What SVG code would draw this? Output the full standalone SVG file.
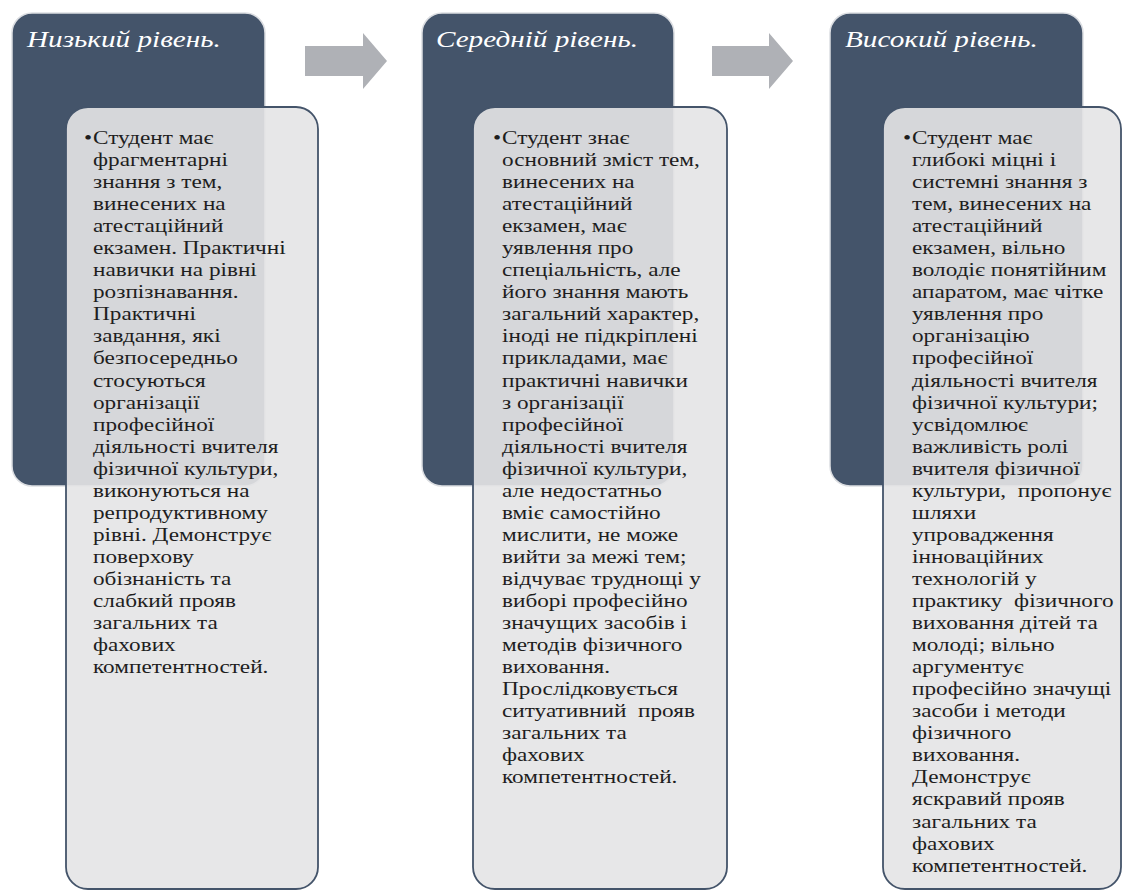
<svg xmlns="http://www.w3.org/2000/svg" width="1124" height="894" viewBox="0 0 1124 894">
<style>
.dark{fill:#44546a;stroke:#dcdee2;stroke-width:1.5}
.light{fill:#e5e5e6;fill-opacity:0.91;stroke:#44546a;stroke-width:1.8}
.hdr{font-family:"Liberation Serif","Times New Roman",serif;font-style:italic;font-size:23px;fill:#ffffff}
.body{font-family:"Liberation Serif","Times New Roman",serif;font-size:18.3px;fill:#1e1e1e}
.arrow{fill:#afb1b6}
</style>
<rect x="0" y="0" width="1124" height="894" fill="#ffffff"/>
<g id="connectors">
<polygon class="arrow" points="305,46 363,46 363,33 387,61 363,89 363,76 305,76"/>
<polygon class="arrow" points="712,46 769,46 769,33 793,61 769,89 769,76 712,76"/>
</g>
<g id="node-low">
<rect class="dark" x="12" y="13" width="253" height="473" rx="20"/>
<text class="hdr" transform="translate(27,47) scale(1.27,1)">Низький рівень.</text>
<rect class="light" x="66" y="107" width="252" height="782" rx="22"/>
<text class="body" transform="translate(84,144) scale(1.27,1)">•</text>
<text class="body" transform="translate(93,144) scale(1.27,1)"><tspan x="0" y="0">Студент має</tspan><tspan x="0" dy="22.05">фрагментарні</tspan><tspan x="0" dy="22.05">знання з тем,</tspan><tspan x="0" dy="22.05">винесених на</tspan><tspan x="0" dy="22.05">атестаційний</tspan><tspan x="0" dy="22.05">екзамен. Практичні</tspan><tspan x="0" dy="22.05">навички на рівні</tspan><tspan x="0" dy="22.05">розпізнавання.</tspan><tspan x="0" dy="22.05">Практичні</tspan><tspan x="0" dy="22.05">завдання, які</tspan><tspan x="0" dy="22.05">безпосередньо</tspan><tspan x="0" dy="22.05">стосуються</tspan><tspan x="0" dy="22.05">організації</tspan><tspan x="0" dy="22.05">професійної</tspan><tspan x="0" dy="22.05">діяльності вчителя</tspan><tspan x="0" dy="22.05">фізичної культури,</tspan><tspan x="0" dy="22.05">виконуються на</tspan><tspan x="0" dy="22.05">репродуктивному</tspan><tspan x="0" dy="22.05">рівні. Демонструє</tspan><tspan x="0" dy="22.05">поверхову</tspan><tspan x="0" dy="22.05">обізнаність та</tspan><tspan x="0" dy="22.05">слабкий прояв</tspan><tspan x="0" dy="22.05">загальних та</tspan><tspan x="0" dy="22.05">фахових</tspan><tspan x="0" dy="22.05">компетентностей.</tspan></text>
</g>
<g id="node-mid">
<rect class="dark" x="422" y="13" width="252" height="473" rx="20"/>
<text class="hdr" transform="translate(436,47) scale(1.27,1)">Середній рівень.</text>
<rect class="light" x="473" y="107" width="254" height="782" rx="22"/>
<text class="body" transform="translate(493,144) scale(1.27,1)">•</text>
<text class="body" transform="translate(502,144) scale(1.27,1)"><tspan x="0" y="0">Студент знає</tspan><tspan x="0" dy="22.05">основний зміст тем,</tspan><tspan x="0" dy="22.05">винесених на</tspan><tspan x="0" dy="22.05">атестаційний</tspan><tspan x="0" dy="22.05">екзамен, має</tspan><tspan x="0" dy="22.05">уявлення про</tspan><tspan x="0" dy="22.05">спеціальність, але</tspan><tspan x="0" dy="22.05">його знання мають</tspan><tspan x="0" dy="22.05">загальний характер,</tspan><tspan x="0" dy="22.05">іноді не підкріплені</tspan><tspan x="0" dy="22.05">прикладами, має</tspan><tspan x="0" dy="22.05">практичні навички</tspan><tspan x="0" dy="22.05">з організації</tspan><tspan x="0" dy="22.05">професійної</tspan><tspan x="0" dy="22.05">діяльності вчителя</tspan><tspan x="0" dy="22.05">фізичної культури,</tspan><tspan x="0" dy="22.05">але недостатньо</tspan><tspan x="0" dy="22.05">вміє самостійно</tspan><tspan x="0" dy="22.05">мислити, не може</tspan><tspan x="0" dy="22.05">вийти за межі тем;</tspan><tspan x="0" dy="22.05">відчуває труднощі у</tspan><tspan x="0" dy="22.05">виборі професійно</tspan><tspan x="0" dy="22.05">значущих засобів і</tspan><tspan x="0" dy="22.05">методів фізичного</tspan><tspan x="0" dy="22.05">виховання.</tspan><tspan x="0" dy="22.05">Прослідковується</tspan><tspan x="0" dy="22.05">ситуативний&#160; прояв</tspan><tspan x="0" dy="22.05">загальних та</tspan><tspan x="0" dy="22.05">фахових</tspan><tspan x="0" dy="22.05">компетентностей.</tspan></text>
</g>
<g id="node-high">
<rect class="dark" x="830" y="13" width="253" height="473" rx="20"/>
<text class="hdr" transform="translate(845,47) scale(1.27,1)">Високий рівень.</text>
<rect class="light" x="883" y="107" width="238" height="782" rx="22"/>
<text class="body" transform="translate(903,144) scale(1.27,1)">•</text>
<text class="body" transform="translate(912,144) scale(1.27,1)"><tspan x="0" y="0">Студент має</tspan><tspan x="0" dy="22.05">глибокі міцні і</tspan><tspan x="0" dy="22.05">системні знання з</tspan><tspan x="0" dy="22.05">тем, винесених на</tspan><tspan x="0" dy="22.05">атестаційний</tspan><tspan x="0" dy="22.05">екзамен, вільно</tspan><tspan x="0" dy="22.05">володіє понятійним</tspan><tspan x="0" dy="22.05">апаратом, має чітке</tspan><tspan x="0" dy="22.05">уявлення про</tspan><tspan x="0" dy="22.05">організацію</tspan><tspan x="0" dy="22.05">професійної</tspan><tspan x="0" dy="22.05">діяльності вчителя</tspan><tspan x="0" dy="22.05">фізичної культури;</tspan><tspan x="0" dy="22.05">усвідомлює</tspan><tspan x="0" dy="22.05">важливість ролі</tspan><tspan x="0" dy="22.05">вчителя фізичної</tspan><tspan x="0" dy="22.05">культури,&#160; пропонує</tspan><tspan x="0" dy="22.05">шляхи</tspan><tspan x="0" dy="22.05">упровадження</tspan><tspan x="0" dy="22.05">інноваційних</tspan><tspan x="0" dy="22.05">технологій у</tspan><tspan x="0" dy="22.05">практику&#160; фізичного</tspan><tspan x="0" dy="22.05">виховання дітей та</tspan><tspan x="0" dy="22.05">молоді; вільно</tspan><tspan x="0" dy="22.05">аргументує</tspan><tspan x="0" dy="22.05">професійно значущі</tspan><tspan x="0" dy="22.05">засоби і методи</tspan><tspan x="0" dy="22.05">фізичного</tspan><tspan x="0" dy="22.05">виховання.</tspan><tspan x="0" dy="22.05">Демонструє</tspan><tspan x="0" dy="22.05">яскравий прояв</tspan><tspan x="0" dy="22.05">загальних та</tspan><tspan x="0" dy="22.05">фахових</tspan><tspan x="0" dy="22.05">компетентностей.</tspan></text>
</g>
</svg>
